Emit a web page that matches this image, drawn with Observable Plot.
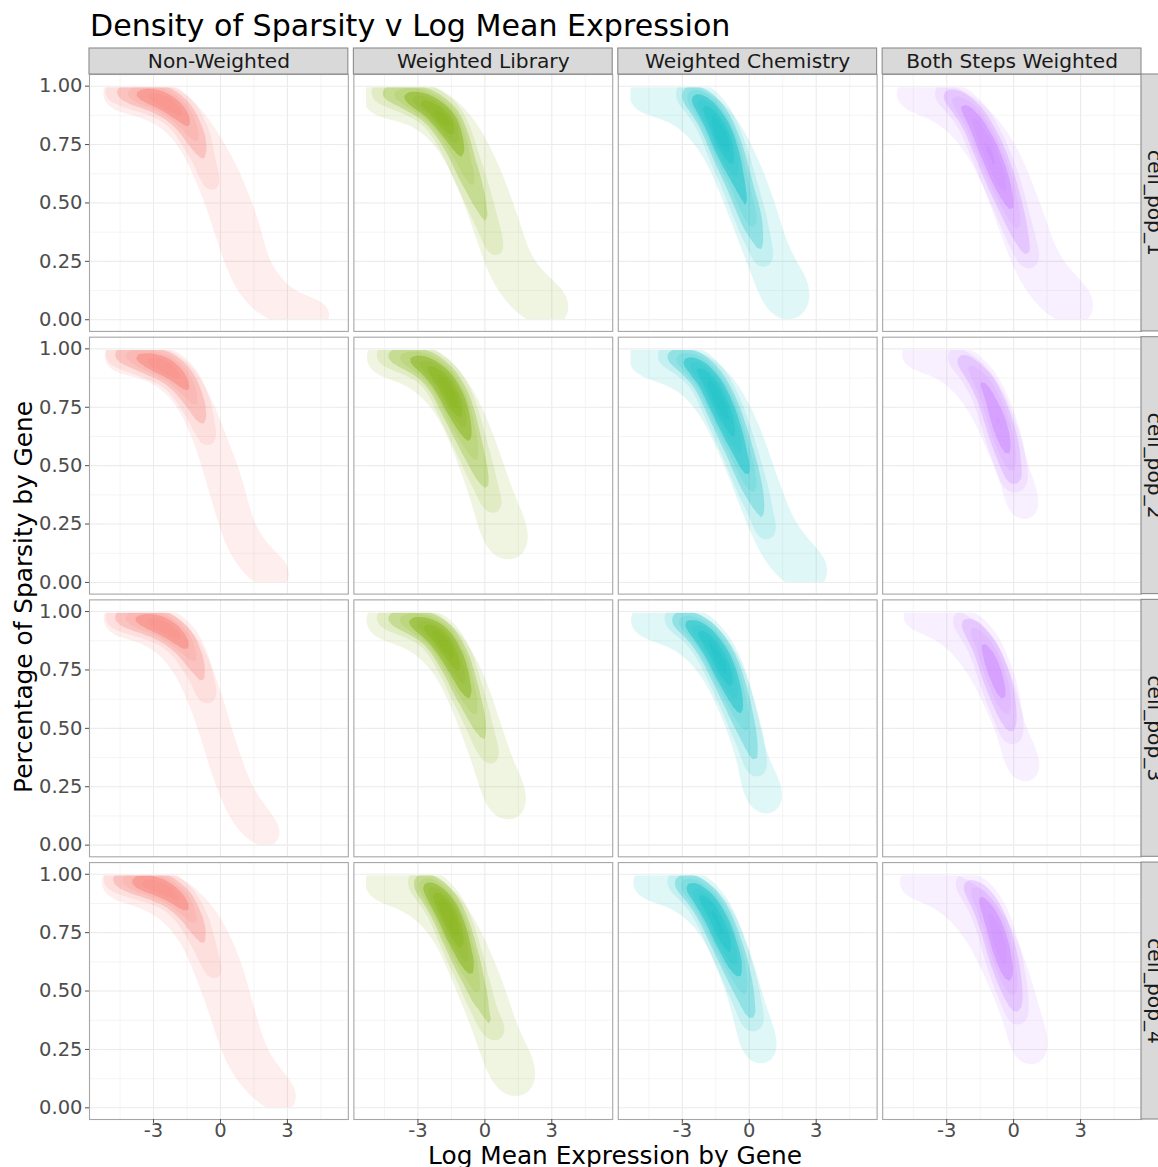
<!DOCTYPE html>
<html>
<head>
<meta charset="utf-8">
<script src="https://cdn.jsdelivr.net/npm/d3@7"></script>
<script src="https://cdn.jsdelivr.net/npm/@observablehq/plot@0.6"></script>
<style>
  body { margin: 0; background: #fff; }
  #wrap { position: relative; width: 1158px; height: 1167px; overflow: hidden; }
  #chart { position: absolute; left: 0; top: 0; }
  #labels { position: absolute; left: 0; top: 0; pointer-events: none; }
</style>
</head>
<body>
<div id="wrap">
  <div id="chart"></div>
  <svg id="labels" width="1158" height="1167" font-family="DejaVu Sans, sans-serif">
    <text x="90" y="36" font-size="30.1" fill="#000">Density of Sparsity v Log Mean Expression</text>
    <text transform="translate(32,597) rotate(-90)" text-anchor="middle" font-size="24.8" fill="#000">Percentage of Sparsity by Gene</text>
    <text x="615" y="1164" text-anchor="middle" font-size="24.8" fill="#000">Log Mean Expression by Gene</text>
  </svg>
</div>
<script>
// ---------- categories, colours, ticks ----------
const methods = ["Non-Weighted", "Weighted Library", "Weighted Chemistry", "Both Steps Weighted"];
const pops = ["cell_pop_1", "cell_pop_2", "cell_pop_3", "cell_pop_4"];
const hues = ["#F8766D", "#7CAE00", "#00BFC4", "#C77CFF"];
const xTicks = [-3, 0, 3];
const xMinor = [-4.5, -1.5, 1.5, 4.5];
const yTicks = [0, 0.25, 0.5, 0.75, 1];
const yMinor = [0.125, 0.375, 0.625, 0.875];
// data range of the genes (density is only estimated inside it)
const dataX = [-5.3, 5.25];
const dataY = [0, 0.993];

// ---------- density read-outs: [log mean expression, sparsity, weight] ----------
// broad envelope of each panel (lightest band)
const nw1Env = [[-5.2,.975,1.5],[-4.85,.972,0.6],[-4.55,.97,1.4],[-3.95,.965,1.4],[-3.35,.955,1.5],[-2.75,.94,1.6],[-2.2,.915,1.7],[-1.7,.875,1.8],[-1.25,.82,1.85],[-0.9,.76,1.85],[-0.55,.70,1.8],[-0.25,.645,1.8],[-0.02,.59,1.75],[0.22,.535,1.75],[0.45,.48,1.8],[0.65,.425,1.8],[0.82,.37,1.75],[0.97,.315,1.7],[1.12,.26,1.65],[1.3,.205,1.65],[1.58,.15,1.65],[1.95,.105,1.6],[2.4,.07,1.5],[2.95,.04,1.36],[3.55,.03,1.28],[4.15,.025,1.25],[4.75,.018,1.22],[5.1,.012,1.12]];
const nw2Env = [[-5.2,.975,1.45],[-4.85,.972,0.6],[-4.55,.97,1.35],[-3.95,.965,1.3],[-3.35,.955,1.35],[-2.75,.94,1.45],[-2.2,.915,1.5],[-1.75,.875,1.5],[-1.4,.825,1.42],[-1.12,.77,1.38],[-0.88,.715,1.38],[-0.65,.66,1.38],[-0.43,.605,1.35],[-0.22,.55,1.35],[-0.02,.495,1.38],[0.17,.44,1.4],[0.33,.385,1.38],[0.48,.33,1.36],[0.63,.275,1.36],[0.8,.22,1.36],[1.0,.165,1.36],[1.28,.115,1.36],[1.65,.07,1.36],[2.15,.04,1.38],[2.7,.025,1.32],[3.0,.015,1.2]];
const nw3Env = [[-5.2,.975,1.5],[-4.85,.972,0.6],[-4.55,.97,1.4],[-3.95,.965,1.35],[-3.35,.955,1.45],[-2.75,.935,1.55],[-2.25,.905,1.6],[-1.8,.86,1.6],[-1.45,.81,1.55],[-1.2,.755,1.47],[-0.97,.70,1.42],[-0.75,.645,1.4],[-0.55,.59,1.36],[-0.37,.535,1.32],[-0.2,.48,1.3],[-0.02,.425,1.3],[0.17,.37,1.32],[0.35,.315,1.35],[0.55,.26,1.35],[0.77,.205,1.33],[1.02,.155,1.33],[1.32,.11,1.35],[1.72,.07,1.35],[2.2,.035,1.36],[2.65,.015,1.3]];
const nw4Env = [[-5.25,.975,1.5],[-4.9,.972,0.6],[-4.6,.97,1.45],[-4.0,.96,1.5],[-3.4,.95,1.6],[-2.8,.935,1.7],[-2.25,.91,1.8],[-1.75,.875,1.9],[-1.3,.83,1.95],[-0.95,.78,1.95],[-0.65,.725,1.95],[-0.4,.67,1.97],[-0.17,.615,1.95],[0.03,.56,1.85],[0.22,.505,1.8],[0.4,.45,1.75],[0.57,.395,1.72],[0.73,.34,1.7],[0.9,.285,1.66],[1.08,.23,1.62],[1.33,.18,1.55],[1.65,.135,1.5],[2.05,.095,1.45],[2.5,.06,1.38],[2.95,.03,1.28],[3.25,.012,1.2]];
const wl1Env = [[-5.25,.96,1.75],[-4.9,.958,0.7],[-4.55,.955,1.65],[-3.95,.95,1.6],[-3.35,.94,1.65],[-2.75,.925,1.75],[-2.2,.9,1.85],[-1.75,.86,1.9],[-1.35,.81,1.95],[-1.02,.76,1.95],[-0.72,.705,1.95],[-0.45,.65,1.9],[-0.2,.595,1.88],[0.02,.54,1.85],[0.23,.485,1.85],[0.43,.43,1.85],[0.62,.375,1.83],[0.8,.32,1.8],[0.97,.265,1.78],[1.17,.21,1.75],[1.45,.16,1.7],[1.8,.12,1.65],[2.25,.09,1.6],[2.7,.07,1.55],[3.1,.05,1.5],[3.3,.025,1.4]];
const wl2Env = [[-5.2,.97,1.6],[-4.85,.967,0.6],[-4.5,.965,1.5],[-3.9,.955,1.5],[-3.3,.945,1.6],[-2.75,.925,1.7],[-2.25,.895,1.75],[-1.85,.855,1.8],[-1.5,.805,1.8],[-1.2,.75,1.8],[-0.93,.695,1.78],[-0.68,.64,1.75],[-0.45,.585,1.7],[-0.25,.53,1.68],[-0.05,.475,1.65],[0.14,.42,1.65],[0.33,.365,1.68],[0.52,.31,1.7],[0.72,.255,1.72],[0.92,.205,1.7],[1.1,.165,1.6],[1.2,.13,1.45]];
const wl3Env = [[-5.2,.97,1.6],[-4.85,.966,0.6],[-4.5,.962,1.55],[-3.9,.955,1.55],[-3.3,.945,1.6],[-2.75,.925,1.7],[-2.25,.895,1.75],[-1.85,.855,1.8],[-1.5,.805,1.8],[-1.2,.75,1.8],[-0.93,.695,1.75],[-0.7,.64,1.7],[-0.48,.585,1.63],[-0.28,.53,1.58],[-0.08,.475,1.55],[0.12,.42,1.55],[0.31,.365,1.55],[0.5,.31,1.55],[0.72,.255,1.55],[0.92,.205,1.5],[1.1,.165,1.45],[1.22,.135,1.35]];
const wl4Env = [[-5.25,.97,1.65],[-4.9,.967,0.6],[-4.55,.965,1.55],[-3.95,.955,1.55],[-3.35,.94,1.65],[-2.8,.92,1.75],[-2.3,.89,1.8],[-1.9,.85,1.85],[-1.55,.8,1.9],[-1.25,.745,1.92],[-0.98,.69,1.92],[-0.72,.635,1.9],[-0.48,.58,1.88],[-0.25,.525,1.85],[-0.03,.47,1.82],[0.17,.415,1.78],[0.37,.36,1.72],[0.58,.305,1.7],[0.8,.25,1.7],[1.02,.2,1.7],[1.25,.155,1.65],[1.45,.115,1.55],[1.55,.085,1.42]];
const wc1Env = [[-5.28,.97,1.6],[-4.95,.966,0.6],[-4.6,.962,1.5],[-4.0,.955,1.5],[-3.4,.945,1.6],[-2.8,.925,1.75],[-2.25,.895,1.85],[-1.8,.855,1.95],[-1.43,.81,2.0],[-1.13,.76,2.0],[-0.86,.705,2.0],[-0.6,.65,2.0],[-0.36,.595,2.0],[-0.13,.54,1.97],[0.08,.485,1.92],[0.28,.43,1.87],[0.47,.375,1.82],[0.66,.32,1.78],[0.86,.265,1.72],[1.08,.21,1.68],[1.32,.16,1.6],[1.55,.11,1.5],[1.75,.06,1.4],[1.85,.025,1.3],[2.1,.135,1.3]];
const wc2Env = [[-5.28,.97,1.6],[-4.95,.965,0.6],[-4.6,.96,1.55],[-4.0,.95,1.55],[-3.4,.94,1.65],[-2.8,.92,1.75],[-2.25,.89,1.85],[-1.8,.85,1.95],[-1.43,.805,2.0],[-1.13,.755,2.0],[-0.86,.70,2.0],[-0.6,.645,2.0],[-0.36,.59,1.97],[-0.13,.535,1.9],[0.08,.48,1.8],[0.28,.425,1.75],[0.48,.37,1.78],[0.7,.315,1.8],[0.93,.26,1.82],[1.18,.205,1.78],[1.45,.155,1.72],[1.75,.11,1.65],[2.1,.075,1.55],[2.5,.05,1.42],[2.9,.035,1.32],[3.2,.03,1.2]];
const wc3Env = [[-5.25,.97,1.55],[-4.9,.966,0.6],[-4.55,.962,1.5],[-3.95,.955,1.5],[-3.35,.945,1.55],[-2.75,.925,1.65],[-2.25,.895,1.7],[-1.85,.855,1.75],[-1.5,.805,1.75],[-1.2,.75,1.7],[-0.94,.695,1.6],[-0.72,.64,1.5],[-0.52,.585,1.42],[-0.34,.53,1.35],[-0.16,.475,1.3],[0.0,.42,1.27],[0.15,.365,1.25],[0.3,.31,1.26],[0.48,.255,1.28],[0.67,.21,1.3],[0.85,.175,1.25],[0.95,.155,1.18]];
const wc4Env = [[-5.2,.97,1.5],[-4.85,.967,0.6],[-4.5,.965,1.4],[-3.9,.957,1.35],[-3.3,.947,1.45],[-2.75,.93,1.55],[-2.25,.9,1.6],[-1.85,.86,1.62],[-1.5,.81,1.6],[-1.22,.757,1.57],[-0.98,.702,1.52],[-0.76,.647,1.46],[-0.56,.592,1.42],[-0.37,.537,1.38],[-0.19,.482,1.36],[-0.01,.427,1.36],[0.15,.372,1.36],[0.3,.317,1.35],[0.45,.262,1.3],[0.58,.225,1.25],[0.66,.2,1.15]];
const bw1Env = [[-5.25,.975,1.5],[-4.9,.972,0.6],[-4.55,.97,1.4],[-3.95,.96,1.4],[-3.35,.945,1.5],[-2.8,.92,1.6],[-2.3,.885,1.7],[-1.85,.845,1.8],[-1.45,.8,1.85],[-1.1,.75,1.9],[-0.8,.7,1.9],[-0.53,.645,1.9],[-0.3,.59,1.9],[-0.08,.535,1.9],[0.13,.48,1.9],[0.33,.425,1.9],[0.53,.37,1.9],[0.73,.315,1.85],[0.93,.26,1.75],[1.15,.21,1.7],[1.45,.165,1.7],[1.8,.125,1.65],[2.2,.095,1.55],[2.6,.07,1.45],[2.95,.05,1.35],[3.15,.03,1.25]];
const bw2Env = [[-5.2,.98,1.4],[-4.85,.979,0.5],[-4.5,.978,1.25],[-3.9,.972,1.22],[-3.3,.962,1.3],[-2.75,.945,1.4],[-2.25,.915,1.5],[-1.85,.875,1.55],[-1.5,.83,1.6],[-1.2,.778,1.6],[-0.95,.723,1.55],[-0.72,.668,1.5],[-0.5,.613,1.45],[-0.3,.558,1.4],[-0.1,.503,1.34],[0.1,.448,1.28],[0.28,.393,1.24],[0.42,.338,1.22],[0.55,.295,1.2],[0.62,.27,1.12]];
const bw3Env = [[-5.2,.985,1.35],[-4.85,.984,0.5],[-4.5,.983,1.18],[-3.9,.975,1.18],[-3.3,.962,1.28],[-2.75,.94,1.4],[-2.25,.91,1.5],[-1.85,.87,1.6],[-1.5,.825,1.62],[-1.2,.773,1.6],[-0.95,.718,1.52],[-0.73,.663,1.45],[-0.52,.608,1.38],[-0.32,.553,1.32],[-0.13,.498,1.26],[0.06,.443,1.24],[0.25,.388,1.22],[0.45,.338,1.22],[0.62,.3,1.18],[0.72,.28,1.1]];
const bw4Env = [[-5.2,.975,1.45],[-4.85,.972,0.5],[-4.5,.97,1.32],[-3.9,.96,1.35],[-3.3,.945,1.45],[-2.75,.92,1.6],[-2.25,.89,1.7],[-1.8,.85,1.8],[-1.42,.805,1.85],[-1.1,.753,1.9],[-0.83,.698,1.85],[-0.58,.643,1.8],[-0.35,.588,1.72],[-0.13,.533,1.65],[0.08,.478,1.58],[0.28,.423,1.5],[0.45,.368,1.45],[0.6,.313,1.38],[0.73,.258,1.3],[0.83,.222,1.22],[0.9,.2,1.12]];

// dense ridge of each panel (darker bands)
const nw1Core = [[-5.0,.98,1.3],[-4.5,.975,2],[-4.0,.97,3],[-3.5,.965,4],[-3.0,.955,4.8],[-2.55,.94,5.3],[-2.1,.915,5.0],[-1.75,.88,4.4],[-1.45,.84,3.7],[-1.2,.795,3.1],[-1.0,.75,2.5],[-0.8,.70,1.9],[-0.62,.65,1.6],[-0.45,.60,1.3],[-0.3,.56,1.1]];
const nw2Core = [[-4.9,.98,1.4],[-4.45,.975,2.2],[-4.0,.97,3.0],[-3.5,.96,4.0],[-3.0,.945,4.9],[-2.55,.93,5.3],[-2.1,.905,5.0],[-1.75,.87,4.4],[-1.45,.83,3.7],[-1.2,.785,3.0],[-1.0,.74,2.4],[-0.82,.69,1.9],[-0.65,.64,1.5],[-0.5,.59,1.2]];
const nw3Core = [[-4.9,.98,1.4],[-4.45,.975,2.2],[-4.0,.972,3.0],[-3.5,.965,4.0],[-3.0,.955,4.9],[-2.55,.94,5.3],[-2.1,.915,5.0],[-1.75,.88,4.3],[-1.45,.84,3.5],[-1.2,.795,2.8],[-0.98,.75,2.2],[-0.8,.70,1.75],[-0.64,.655,1.35],[-0.52,.62,1.1]];
const nw4Core = [[-5.0,.98,1.5],[-4.5,.977,2.4],[-4.0,.972,3.5],[-3.5,.965,4.5],[-3.0,.955,5.2],[-2.55,.94,5.3],[-2.1,.915,4.8],[-1.72,.88,4.1],[-1.42,.84,3.4],[-1.15,.795,2.8],[-0.93,.745,2.3],[-0.72,.695,1.9],[-0.52,.645,1.55],[-0.35,.595,1.3],[-0.2,.56,1.05]];
const wl1Core = [[-4.9,.975,1.3],[-4.45,.972,1.8],[-4.0,.967,2.5],[-3.55,.958,3.3],[-3.1,.945,4.2],[-2.7,.93,5.0],[-2.3,.905,5.8],[-1.95,.875,6.3],[-1.68,.84,6.0],[-1.45,.80,5.2],[-1.25,.757,4.2],[-1.07,.712,3.6],[-0.9,.668,3.2],[-0.72,.624,2.9],[-0.54,.58,2.6],[-0.37,.536,2.3],[-0.2,.492,2.0],[-0.03,.448,1.8],[0.13,.404,1.6],[0.28,.36,1.4],[0.43,.318,1.2],[0.58,.28,1.0]];
const wl2Core = [[-4.7,.975,1.2],[-4.25,.972,1.7],[-3.8,.967,2.4],[-3.35,.958,3.2],[-2.9,.945,4.0],[-2.5,.925,4.8],[-2.15,.895,5.6],[-1.85,.86,6.3],[-1.58,.82,6.8],[-1.38,.778,6.5],[-1.2,.735,5.8],[-1.02,.69,4.9],[-0.85,.645,4.1],[-0.67,.60,3.4],[-0.5,.556,2.9],[-0.33,.512,2.5],[-0.17,.468,2.1],[-0.01,.424,1.8],[0.15,.38,1.5],[0.3,.34,1.25],[0.45,.31,1.0]];
const wl3Core = [[-4.7,.975,1.2],[-4.25,.972,1.7],[-3.8,.967,2.4],[-3.35,.96,3.2],[-2.9,.948,4.1],[-2.5,.93,5.0],[-2.15,.905,5.8],[-1.85,.873,6.3],[-1.6,.835,6.4],[-1.38,.792,6.0],[-1.18,.748,5.2],[-1.0,.703,4.4],[-0.82,.658,3.7],[-0.64,.613,3.1],[-0.46,.568,2.6],[-0.29,.523,2.2],[-0.12,.478,1.85],[0.04,.433,1.55],[0.2,.39,1.3],[0.36,.352,1.05]];
const wl4Core = [[-3.1,.975,1.3],[-2.75,.965,2.3],[-2.45,.945,3.5],[-2.18,.915,4.7],[-1.93,.88,5.8],[-1.7,.843,6.5],[-1.5,.8,6.8],[-1.32,.757,6.4],[-1.14,.712,5.7],[-0.97,.667,4.9],[-0.8,.622,4.1],[-0.63,.577,3.4],[-0.46,.532,2.9],[-0.29,.487,2.4],[-0.12,.442,2.0],[0.05,.4,1.7],[0.22,.36,1.4],[0.4,.33,1.2],[0.57,.31,1.0]];
const wc1Core = [[-2.95,.975,1.3],[-2.6,.965,2.2],[-2.3,.945,3.2],[-2.02,.92,4.2],[-1.78,.888,5.0],[-1.56,.853,5.7],[-1.36,.815,6.2],[-1.18,.775,6.4],[-1.01,.733,6.1],[-0.85,.69,5.5],[-0.69,.647,4.7],[-0.53,.604,4.0],[-0.37,.561,3.7],[-0.22,.518,3.4],[-0.07,.475,3.2],[0.08,.432,2.9],[0.22,.39,2.3],[0.36,.348,1.8],[0.49,.307,1.5],[0.61,.268,1.2],[0.7,.24,1.0]];
const wc2Core = [[-3.9,.975,1.3],[-3.45,.968,2.0],[-3.0,.957,2.9],[-2.6,.94,3.8],[-2.25,.915,4.6],[-1.95,.883,5.3],[-1.7,.847,5.9],[-1.48,.808,6.3],[-1.28,.767,6.4],[-1.09,.725,6.2],[-0.92,.683,5.7],[-0.75,.641,5.0],[-0.58,.599,4.5],[-0.42,.557,4.1],[-0.26,.515,3.7],[-0.1,.473,3.3],[0.05,.431,2.9],[0.2,.389,2.5],[0.35,.347,2.0],[0.5,.305,1.7],[0.63,.263,1.4],[0.75,.222,1.15],[0.82,.2,1.0]];
const wc3Core = [[-3.55,.975,1.3],[-3.15,.966,2.1],[-2.75,.952,3.0],[-2.4,.932,3.9],[-2.08,.905,4.8],[-1.8,.872,5.5],[-1.55,.836,6.0],[-1.33,.797,6.2],[-1.13,.757,6.0],[-0.95,.715,5.5],[-0.78,.672,4.8],[-0.61,.629,4.1],[-0.45,.586,3.5],[-0.3,.543,3.0],[-0.15,.5,2.6],[0.0,.457,2.2],[0.12,.414,1.85],[0.23,.372,1.5],[0.32,.335,1.2],[0.38,.31,1.0]];
const wc4Core = [[-3.4,.975,1.3],[-3.0,.965,2.2],[-2.62,.948,3.1],[-2.3,.925,4.0],[-2.02,.895,4.8],[-1.78,.86,5.4],[-1.56,.822,5.8],[-1.36,.782,5.9],[-1.17,.741,5.7],[-0.99,.699,5.2],[-0.82,.657,4.6],[-0.65,.615,4.0],[-0.49,.573,3.4],[-0.34,.531,2.9],[-0.2,.489,2.4],[-0.07,.447,2.0],[0.06,.405,1.6],[0.16,.37,1.25],[0.22,.35,1.0]];
const bw1Core = [[-3.3,.975,1.2],[-2.9,.963,1.8],[-2.55,.943,2.5],[-2.22,.915,3.2],[-1.93,.88,3.8],[-1.68,.842,4.3],[-1.46,.802,4.7],[-1.26,.76,5.0],[-1.07,.718,5.2],[-0.89,.676,5.2],[-0.72,.634,5.0],[-0.55,.592,4.6],[-0.39,.55,4.1],[-0.23,.508,3.6],[-0.07,.466,3.1],[0.08,.424,2.7],[0.23,.382,2.3],[0.38,.34,1.95],[0.52,.3,1.6],[0.65,.265,1.3],[0.78,.24,1.0]];
const bw2Core = [[-2.75,.975,1.1],[-2.4,.96,1.5],[-2.08,.94,1.9],[-1.8,.912,2.3],[-1.55,.88,2.7],[-1.33,.845,3.1],[-1.13,.806,3.5],[-0.95,.765,3.8],[-0.79,.722,4.1],[-0.64,.679,4.2],[-0.5,.636,4.1],[-0.37,.593,3.8],[-0.25,.55,3.3],[-0.13,.507,2.7],[-0.03,.465,2.0],[0.05,.435,1.4],[0.1,.415,1.0]];
const bw3Core = [[-2.5,.975,1.1],[-2.15,.958,1.6],[-1.85,.93,2.1],[-1.6,.9,2.6],[-1.38,.865,3.1],[-1.18,.826,3.5],[-1.0,.785,3.9],[-0.85,.742,4.1],[-0.7,.7,4.0],[-0.56,.656,3.7],[-0.43,.612,3.2],[-0.3,.568,2.6],[-0.18,.525,2.0],[-0.08,.482,1.5],[-0.02,.45,1.05]];
const bw4Core = [[-2.35,.972,1.2],[-2.0,.955,1.7],[-1.7,.93,2.3],[-1.45,.9,2.9],[-1.24,.866,3.4],[-1.06,.83,3.9],[-0.9,.79,4.3],[-0.76,.748,4.6],[-0.63,.705,4.7],[-0.51,.662,4.6],[-0.39,.619,4.2],[-0.27,.576,3.7],[-0.15,.533,3.1],[-0.04,.49,2.5],[0.07,.448,1.9],[0.16,.405,1.45],[0.23,.37,1.1]];

const panelEnv = [[nw1Env, nw2Env, nw3Env, nw4Env], [wl1Env, wl2Env, wl3Env, wl4Env], [wc1Env, wc2Env, wc3Env, wc4Env], [bw1Env, bw2Env, bw3Env, bw4Env]];
const panelCore = [[nw1Core, nw2Core, nw3Core, nw4Core], [wl1Core, wl2Core, wl3Core, wl4Core], [wc1Core, wc2Core, wc3Core, wc4Core], [bw1Core, bw2Core, bw3Core, bw4Core]];

// ---------- tables ----------
function rows(sets) {
  const out = [];
  methods.forEach((m, i) => pops.forEach((p, j) => {
    for (const [x, y, w] of sets[i][j]) out.push({m, p, x, y, w});
  }));
  return out;
}
const envRows = rows(panelEnv);
const coreRows = rows(panelCore);
const cells = methods.flatMap(m => pops.map(p => ({m, p})));
const cross = vals => cells.flatMap(c => vals.map(v => ({...c, v})));

// ---------- layout ----------
const W = 1158, H = 1167;
const mL = 89, mR = 17, mT = 74, mB = 48;
const xDom = [-5.87, 5.73], yDom = [-0.05, 1.05];
const padX = 0.021, padY = 0.022;
const bwX = (W - mL - mR) / (4 - padX) * (1 - padX);
const bwY = (H - mT - mB) / (4 - padY) * (1 - padY);
const xPx = bwX / (xDom[1] - xDom[0]);
const yPx = bwY / (yDom[1] - yDom[0]);
const stripPx = 26;

const gridMajor = {stroke: "#ebebeb", strokeWidth: 1.1};
const gridMinor = {stroke: "#ebebeb", strokeWidth: 0.55};
const fxy = {fx: "m", fy: "p"};
const dens = {x: "x", y: "y", weight: "w", fill: "m", ...fxy};

const topStrip = methods.map(m => ({m, p: pops[0]}));
const rightStrip = pops.map(p => ({m: methods[3], p}));

const chart = Plot.plot({
  width: W, height: H,
  marginLeft: mL, marginRight: mR, marginTop: mT, marginBottom: mB,
  style: {fontFamily: "DejaVu Sans, sans-serif", background: "white", overflow: "visible"},
  x: {domain: xDom, label: null},
  y: {domain: yDom, label: null},
  fx: {domain: methods, paddingInner: padX, paddingOuter: 0, round: false, axis: null, label: null},
  fy: {domain: pops, paddingInner: padY, paddingOuter: 0, round: false, axis: null, label: null},
  color: {domain: methods, range: hues},
  marks: [
    // grid
    Plot.ruleX(cross(xMinor), {x: "v", ...fxy, ...gridMinor}),
    Plot.ruleY(cross(yMinor), {y: "v", ...fxy, ...gridMinor}),
    Plot.ruleX(cross(xTicks), {x: "v", ...fxy, ...gridMajor}),
    Plot.ruleY(cross(yTicks), {y: "v", ...fxy, ...gridMajor}),
    // density: broad envelope, then the ridge levels
    Plot.density(envRows, {...dens, bandwidth: 18, thresholds: 2, fillOpacity: 0.12}),
    Plot.density(coreRows, {...dens, bandwidth: 8, thresholds: 8, fillOpacity: 0.12}),
    Plot.density(coreRows, {...dens, bandwidth: 8, thresholds: 4, fillOpacity: 0.15}),
    Plot.density(coreRows, {...dens, bandwidth: 8, thresholds: 2, fillOpacity: 0.2}),
    // estimate only inside the data range
    Plot.rect(cells, {...fxy, x1: xDom[0], x2: xDom[1], y1: dataY[1], y2: yDom[1], fill: "white"}),
    Plot.rect(cells, {...fxy, x1: xDom[0], x2: xDom[1], y1: yDom[0], y2: dataY[0], fill: "white"}),
    Plot.rect(cells, {...fxy, x1: xDom[0], x2: dataX[0], y1: yDom[0], y2: yDom[1], fill: "white"}),
    Plot.rect(cells, {...fxy, x1: dataX[1], x2: xDom[1], y1: yDom[0], y2: yDom[1], fill: "white"}),
    // grid inside the uncovered margins
    Plot.ruleX(cross(xMinor), {x: "v", ...fxy, y1: dataY[1], y2: yDom[1], ...gridMinor}),
    Plot.ruleX(cross(xTicks), {x: "v", ...fxy, y1: dataY[1], y2: yDom[1], ...gridMajor}),
    Plot.ruleX(cross(xMinor), {x: "v", ...fxy, y1: yDom[0], y2: dataY[0], ...gridMinor}),
    Plot.ruleX(cross(xTicks), {x: "v", ...fxy, y1: yDom[0], y2: dataY[0], ...gridMajor}),
    Plot.ruleY(cross(yMinor), {y: "v", ...fxy, x1: xDom[0], x2: dataX[0], ...gridMinor}),
    Plot.ruleY(cross(yMinor), {y: "v", ...fxy, x1: dataX[1], x2: xDom[1], ...gridMinor}),
    Plot.ruleY(cross(yTicks.slice(1, 4)), {y: "v", ...fxy, x1: xDom[0], x2: dataX[0], ...gridMajor}),
    Plot.ruleY(cross(yTicks.slice(1, 4)), {y: "v", ...fxy, x1: dataX[1], x2: xDom[1], ...gridMajor}),
    Plot.ruleY(cross([yTicks[0], yTicks[4]]), {y: "v", ...fxy, ...gridMajor}),
    // panel borders
    Plot.frame({stroke: "#a6a6a6", strokeWidth: 1.1}),
    // strips
    Plot.rect(topStrip, {...fxy, x1: xDom[0], x2: xDom[1], y1: yDom[1], y2: yDom[1] + stripPx / yPx, fill: "#d9d9d9", stroke: "#8c8c8c", strokeWidth: 1.1}),
    Plot.text(topStrip, {...fxy, x: (xDom[0] + xDom[1]) / 2, y: yDom[1] + stripPx / 2 / yPx, text: "m", fontSize: 20.2, fill: "#1a1a1a"}),
    Plot.rect(rightStrip, {...fxy, x1: xDom[1], x2: xDom[1] + (stripPx + 4) / xPx, y1: yDom[0], y2: yDom[1], fill: "#d9d9d9", stroke: "#8c8c8c", strokeWidth: 1.1}),
    Plot.text(rightStrip, {...fxy, x: xDom[1] + stripPx / 2 / xPx, y: (yDom[0] + yDom[1]) / 2, text: "p", rotate: 90, fontSize: 20.2, fill: "#1a1a1a"}),
    // axes
    Plot.axisX({ticks: xTicks, tickFormat: d => (d < 0 ? "-" + (-d) : String(d)), tickSize: 4, tickPadding: 0, fontSize: 19.5, color: "#4d4d4d", label: null}),
    Plot.axisY({ticks: yTicks, tickFormat: d3.format(".2f"), tickSize: 4, tickPadding: 3, fontSize: 19.5, color: "#4d4d4d", label: null})
  ]
});
document.getElementById("chart").appendChild(chart);
</script>
</body>
</html>
